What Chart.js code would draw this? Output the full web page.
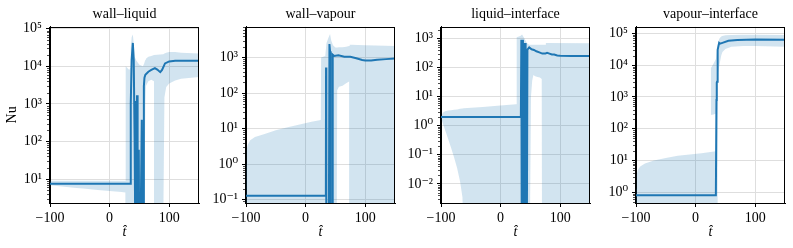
<!DOCTYPE html>
<html>
<head>
<meta charset="utf-8">
<script src="https://cdn.jsdelivr.net/npm/chart.js@4/dist/chart.umd.min.js"></script>
<style>
  html, body { margin: 0; padding: 0; background: #fff; }
  #fig { position: relative; width: 793px; height: 248px; overflow: hidden; background: #fff; }
  #fig canvas { position: absolute; top: 0; }
</style>
</head>
<body>
<div id="fig"></div>
<script>
// ---- data ----
const panelTitles = ['wall\u2013liquid', 'wall\u2013vapour', 'liquid\u2013interface', 'vapour\u2013interface'];
const xTicks = [-100, 0, 100];

// wall-liquid
const wallLiquidT  = [-100, 34.5, 35.5, 37, 39, 40.5, 42, 43, 44, 44.5, 45.5, 46, 46.5, 47, 47.5, 48.5, 49, 49.5, 52, 54, 55, 56.5, 57.5, 58.5, 60, 65, 70, 76, 80, 85, 88, 93, 100, 110, 120, 150];
const wallLiquidNu = [7.5, 7.5, 1000, 15000, 42000, 15000, 100, 0.5, 1200, 0.5, 0.5, 1700, 0.5, 1000, 0.5, 0.5, 60, 0.5, 0.5, 380, 0.5, 0.5, 3000, 5000, 6000, 7200, 8000, 9000, 8200, 7000, 8000, 12000, 13500, 14000, 14000, 14000];
const wallLiquidBandT  = [-100, -80, -60, -40, -20, 0, 20, 26.5, 27, 33, 34.5, 35.5, 37, 39, 40.5, 42, 45, 50, 56, 58, 60, 61, 65, 70, 74.5, 75, 90, 92, 95, 100, 110, 120, 150];
const wallLiquidUpper  = [9, 9, 9, 9, 9, 9, 9, 9, 10000, 8000, 9000, 30000, 60000, 70000, 40000, 18000, 14000, 11000, 10000, 12000, 15000, 16000, 18000, 19000, 20000, 20000, 21000, 22000, 23000, 24000, 24000, 23000, 22000];
const wallLiquidLower  = [6.8, 6.3, 5.9, 5.5, 5.1, 4.8, 4.5, 4.4, 0.5, 0.5, 0.5, 0.5, 0.5, 0.5, 0.5, 0.5, 0.5, 0.5, 0.5, 0.5, 1000, 3000, 4000, 4400, 4000, 0.5, 0.5, 1500, 2800, 3500, 4200, 4700, 5200];
const wallLiquidYTicks = [1e1, 1e2, 1e3, 1e4, 1e5];

// wall-vapour
const wallVapourT  = [-100, 34, 34.3, 34.8, 39, 40, 41, 42, 44.5, 45.5, 48, 55, 65, 75, 85, 95, 100, 110, 120, 135, 150];
const wallVapourNu = [0.13, 0.13, 520, 0.01, 0.01, 2400, 1500, 0.01, 0.01, 1200, 1100, 1150, 1050, 1050, 950, 850, 820, 830, 860, 900, 930];
const wallVapourBandT = [-100, -99, -97, -93, -85, -70, -50, -30, -10, 10, 25.5, 26, 33, 35, 38, 41, 43, 46, 50, 52, 53, 56, 62, 68, 73, 74, 76, 100, 150];
const wallVapourUpper = [1, 2.5, 3.5, 4.7, 5.8, 7, 9, 11, 13, 15.5, 17.5, 1000, 1100, 2500, 3500, 4600, 3000, 2200, 1900, 1900, 1900, 1950, 1950, 2000, 2100, 2300, 2300, 2200, 2100];
const wallVapourLower = [0.001, 0.001, 0.001, 0.001, 0.001, 0.001, 0.001, 0.001, 0.001, 0.001, 0.001, 0.001, 0.001, 0.001, 0.001, 0.001, 0.001, 0.001, 0.001, 0.001, 120, 150, 160, 190, 210, 0.001, 0.001, 0.001, 0.001];
const wallVapourYTicks = [1e-1, 1e0, 1e1, 1e2, 1e3];

// liquid-interface
const liquidInterfaceT  = [-100, 34, 34.8, 35.5, 36.5, 37.5, 39, 40, 41, 42, 44, 45, 48, 52, 56, 60, 65, 70, 75, 78, 82, 86, 90, 95, 100, 120, 150];
const liquidInterfaceNu = [2, 2, 900, 1e-4, 900, 1e-4, 700, 1e-4, 690, 1e-4, 1e-4, 410, 490, 420, 400, 360, 330, 300, 300, 320, 300, 280, 280, 260, 255, 250, 250];
const liquidInterfaceBandT = [-100, -97, -93, -88, -83, -78, -73, -68, -64, -62, -30, 0, 26, 27, 33, 36, 40, 44, 48, 49, 51, 53, 55, 58, 62, 66, 69, 69.5, 75, 76, 150];
const liquidInterfaceUpper = [2, 2.8, 3.1, 3.3, 3.4, 3.5, 3.6, 3.8, 3.9, 4.0, 4.4, 4.9, 5.5, 1100, 1200, 1350, 1000, 700, 600, 600, 600, 600, 600, 600, 600, 600, 600, 600, 600, 700, 680];
const liquidInterfaceLower = [1.9, 1.2, 0.7, 0.35, 0.17, 0.08, 0.035, 0.012, 0.0035, 1e-4, 1e-4, 1e-4, 1e-4, 1e-4, 1e-4, 1e-4, 1e-4, 1e-4, 1e-4, 1e-4, 10, 35, 55, 50, 47, 45, 40, 1e-4, 1e-4, 1e-4, 1e-4];
const liquidInterfaceYTicks = [1e-2, 1e-1, 1e0, 1e1, 1e2, 1e3];

// vapour-interface
const vapourInterfaceT  = [-100, 34, 35, 35.5, 36, 36.5, 37.5, 39.5, 41, 45, 55, 70, 100, 150];
const vapourInterfaceNu = [0.8, 0.8, 800, 2800, 3000, 20000, 30000, 50000, 47000, 50000, 58000, 62000, 64000, 63000];
const vapourInterfaceBandT = [-100, -99, -97, -93, -85, -70, -50, -30, -10, 10, 25, 34, 34.5, 36.8, 37.2, 38, 40, 43, 45, 50, 60, 80, 100, 150];
const vapourInterfaceUpper = [1.3, 3.5, 5, 6.5, 8, 10, 12, 14, 15.5, 17, 18.5, 19.5, 16000, 43000, 45000, 55000, 69000, 79000, 82000, 86000, 89000, 90000, 90000, 88000];
const vapourInterfaceLower = [1e-3, 1e-3, 1e-3, 1e-3, 1e-3, 1e-3, 1e-3, 1e-3, 1e-3, 1e-3, 1e-3, 1e-3, 1e-3, 1e-3, 3000, 6000, 10000, 20000, 26000, 32000, 38000, 40000, 40000, 38000];
const vapourInterfaceBlobT = [25.5, 30, 34.5];
const vapourInterfaceBlobUpper = [7900, 11000, 16000];
const vapourInterfaceBlobLower = [270, 280, 300];
const vapourInterfaceYTicks = [1e0, 1e1, 1e2, 1e3, 1e4, 1e5];

// ---- layout / style ----
const plotLeft = [50, 246, 441, 636];
const plotWidth = 149;
const axisWidth = [50, 42, 42, 42];
const yRange = [[2.3, 1.13e5], [0.081, 7300], [0.0022, 2500], [0.46, 1.6e5]];

const C0 = '#1f77b4';
const BAND = 'rgba(31, 119, 180, 0.2)';
const GRID = '#dedede';
Chart.defaults.font.family = "'Liberation Serif', 'DejaVu Serif', serif";
Chart.defaults.font.size = 14;
Chart.defaults.color = '#000';

const panels = [
  { title: panelTitles[0], t: wallLiquidT, nu: wallLiquidNu, yTicks: wallLiquidYTicks,
    bands: [[wallLiquidBandT, wallLiquidUpper, wallLiquidLower]] },
  { title: panelTitles[1], t: wallVapourT, nu: wallVapourNu, yTicks: wallVapourYTicks,
    bands: [[wallVapourBandT, wallVapourUpper, wallVapourLower]] },
  { title: panelTitles[2], t: liquidInterfaceT, nu: liquidInterfaceNu, yTicks: liquidInterfaceYTicks,
    bands: [[liquidInterfaceBandT, liquidInterfaceUpper, liquidInterfaceLower]] },
  { title: panelTitles[3], t: vapourInterfaceT, nu: vapourInterfaceNu, yTicks: vapourInterfaceYTicks,
    bands: [[vapourInterfaceBandT, vapourInterfaceUpper, vapourInterfaceLower],
            [vapourInterfaceBlobT, vapourInterfaceBlobUpper, vapourInterfaceBlobLower]] },
];

const SUP = { '-': '\u207b', '0': '\u2070', '1': '\u00b9', '2': '\u00b2', '3': '\u00b3', '4': '\u2074', '5': '\u2075', '6': '\u2076', '7': '\u2077', '8': '\u2078', '9': '\u2079' };
function powLabel(v) {
  const e = Math.round(Math.log10(v));
  if (Math.abs(v / Math.pow(10, e) - 1) > 1e-6) return '';
  return '10' + String(e).split('').map(c => SUP[c]).join('');
}
function isMajor(v) { return v !== undefined && powLabel(v) !== ''; }

function logTicks(majors, min, max) {
  const out = [];
  const decades = [majors[0] / 10].concat(majors);
  decades.forEach(m => {
    for (let k = 1; k <= 9; k++) {
      const v = k === 1 ? m : k * m;
      if (v >= min && v <= max) out.push({ value: v });
    }
  });
  return out;
}

const pts = (xs, ys) => xs.map((x, i) => ({ x: x, y: ys[i] }));

// top/right spines + short minor ticks on the y axis
const frame = {
  id: 'frame',
  afterDatasetsDraw(chart) {
    const { ctx, chartArea: a } = chart;
    ctx.save();
    ctx.strokeStyle = '#000';
    ctx.lineWidth = 1;
    const l = Math.round(a.left) - 0.5, t = Math.round(a.top) + 0.5;
    const r = Math.round(a.right) - 0.5, b = Math.round(a.bottom) + 0.5;
    ctx.strokeRect(l, t, r - l, b - t);
    const ys = chart.scales.y;
    ctx.lineWidth = 0.7;
    ys.ticks.forEach(tk => {
      if (isMajor(tk.value)) return;
      const py = Math.round(ys.getPixelForValue(tk.value)) + 0.5;
      ctx.beginPath();
      ctx.moveTo(l - 2.5, py);
      ctx.lineTo(l, py);
      ctx.stroke();
    });
    ctx.restore();
  }
};

const fig = document.getElementById('fig');

panels.forEach((p, i) => {
  const canvas = document.createElement('canvas');
  canvas.width = axisWidth[i] + plotWidth + 4;
  canvas.height = 248;
  canvas.style.left = (plotLeft[i] - axisWidth[i]) + 'px';
  fig.appendChild(canvas);

  const datasets = [{
    data: pts(p.t, p.nu), borderColor: C0, borderWidth: 2, pointRadius: 0, fill: false, tension: 0
  }];
  p.bands.forEach(b => {
    datasets.push({ data: pts(b[0], b[1]), borderColor: 'rgba(0,0,0,0)', borderWidth: 0, pointRadius: 0, backgroundColor: BAND, fill: '+1' });
    datasets.push({ data: pts(b[0], b[2]), borderColor: 'rgba(0,0,0,0)', borderWidth: 0, pointRadius: 0, fill: false });
  });

  const [ymin, ymax] = yRange[i];

  new Chart(canvas.getContext('2d'), {
    type: 'line',
    data: { datasets: datasets },
    options: {
      responsive: false,
      animation: false,
      events: [],
      layout: { padding: { left: 0, right: 4, top: 0, bottom: 0 } },
      plugins: {
        legend: { display: false },
        tooltip: { enabled: false },
        title: {
          display: true, text: p.title, fullSize: false,
          font: { size: 14, weight: 'normal' }, padding: { top: 6, bottom: 4 }
        }
      },
      scales: {
        x: {
          type: 'linear', min: -100, max: 150,
          afterBuildTicks: s => { s.ticks = xTicks.map(v => ({ value: v })); },
          afterFit: s => { s.height = 45; },
          ticks: { callback: v => String(v).replace('-', '\u2212'), autoSkip: false, maxRotation: 0, padding: 3 },
          grid: { color: GRID, tickColor: '#000', tickLength: 4 },
          border: { color: '#000' },
          title: { display: true, text: 't\u0302', font: { style: 'italic', size: 14 }, padding: { top: 0, bottom: 7 } }
        },
        y: {
          type: 'logarithmic', min: ymin, max: ymax,
          afterBuildTicks: s => { s.ticks = logTicks(p.yTicks, ymin, ymax); },
          afterFit: s => { s.width = axisWidth[i]; },
          ticks: { callback: v => powLabel(v), autoSkip: false, padding: 4 },
          grid: {
            color: c => (c.tick && isMajor(c.tick.value)) ? GRID : 'rgba(0,0,0,0)',
            tickColor: c => (c.tick && isMajor(c.tick.value)) ? '#000' : 'rgba(0,0,0,0)',
            tickLength: 4
          },
          border: { color: '#000' },
          title: { display: i === 0, text: 'Nu', padding: { top: 4, bottom: 0 } }
        }
      }
    },
    plugins: [frame]
  });
});
</script>
</body>
</html>
